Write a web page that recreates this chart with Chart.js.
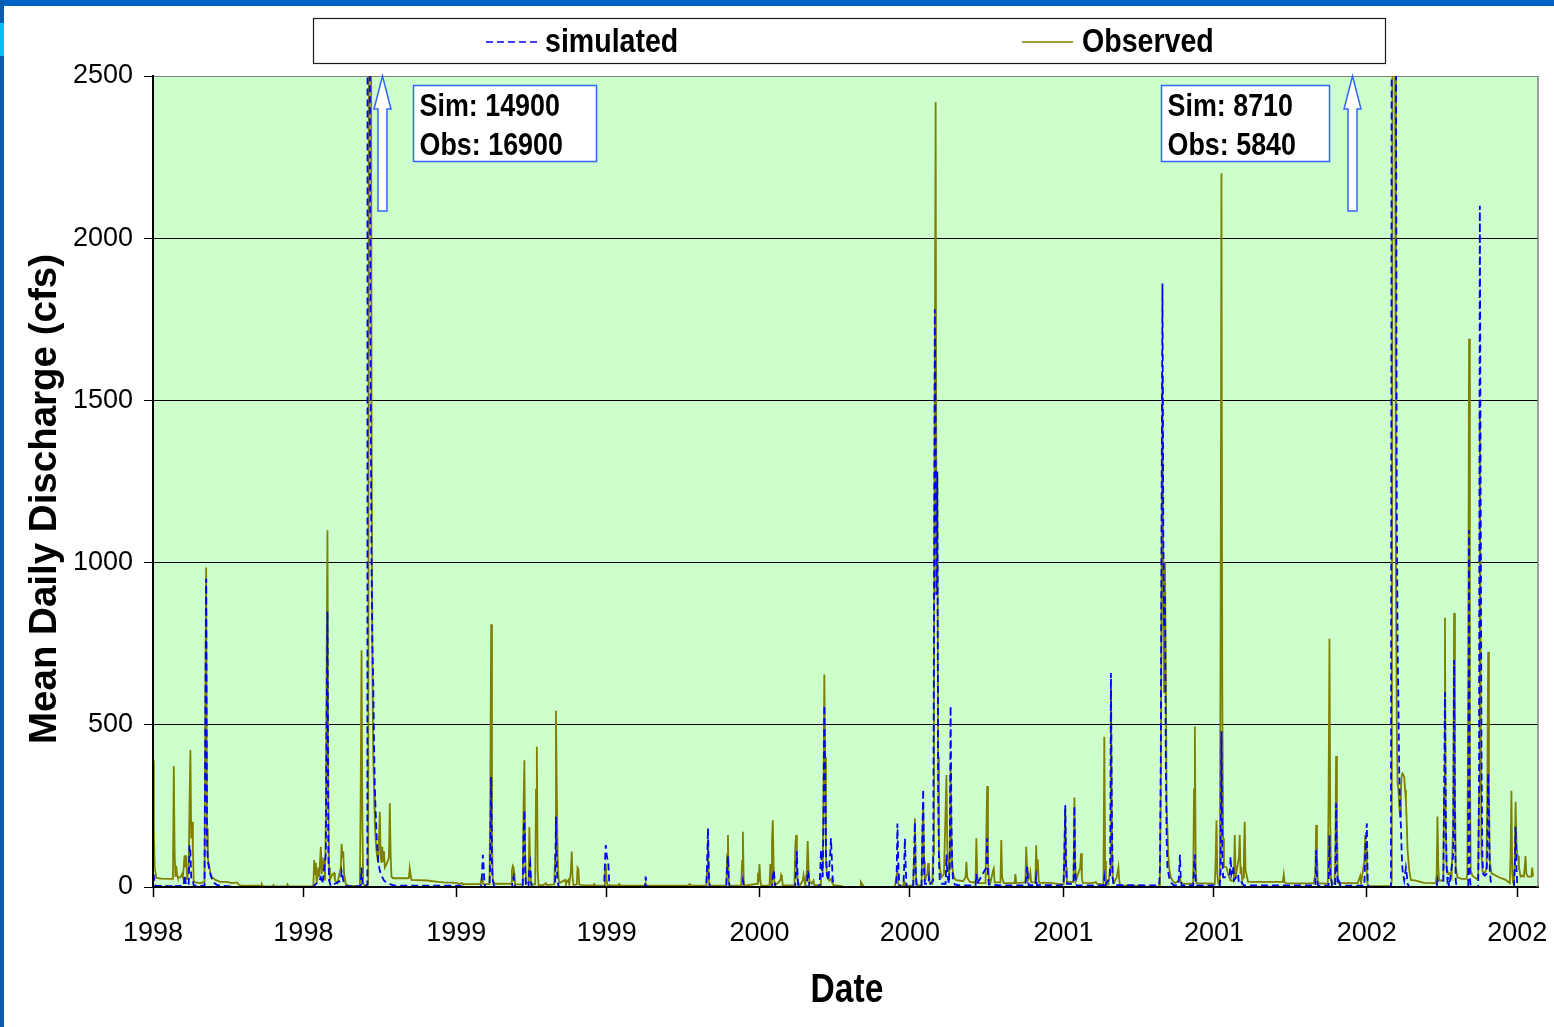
<!DOCTYPE html>
<html>
<head>
<meta charset="utf-8">
<title>Mean Daily Discharge</title>
<script src="https://cdn.jsdelivr.net/npm/chart.js@4.4.1/dist/chart.umd.min.js"></script>
<style>
  html, body { margin: 0; padding: 0; background: #ffffff; overflow: hidden; }
  #wrap { position: relative; width: 1554px; height: 1027px; }
  #chart { position: absolute; left: 0; top: 0; }
  #topbar { position: absolute; left: 0; top: 0; width: 1554px; height: 6px; background: #0062C2; }
  #sidebar { position: absolute; left: 0; top: 0; width: 4px; height: 1027px; background: #0B5AAE; }
  #sidemark { position: absolute; left: 0; top: 23px; width: 4px; height: 33px; background: #00C2F5; }
</style>
</head>
<body>
<div id="wrap">
  <canvas id="chart" width="1554" height="1027"></canvas>
  <div id="topbar"></div>
  <div id="sidebar"></div>
  <div id="sidemark"></div>
</div>
<script>
// Axis ticks: day offsets from 1 Jan 1998 and their year labels
const tickDays = [0, 181, 365, 546, 730, 911, 1096, 1277, 1461, 1642];
const tickLabels = ['1998', '1998', '1999', '1999', '2000', '2000', '2001', '2001', '2002', '2002'];
const seriesNames = ['simulated', 'Observed'];

// Mean daily discharge (cfs), as [day offset, flow]
const simulated = [
  [0,40],[1,35],[2,10],[3,4],[20,3],[24,3],[25,8],[26,3],[37,4],[38,37],[39,20],[40,4],[43,10],[44,129],[45,110],[46,30],[47,20],[48,20],[49,4],
  [62,4],[63,500],[64,950],[65,150],[66,80],[67,63],[69,40],[72,15],[78,5],[90,3],[100,0],[193,0],[196,10],[200,20],[202,30],[204,10],
  [208,100],[209,500],[210,850],[211,100],[212,20],[214,3],[226,20],[227,50],[228,40],[229,20],[231,3],[250,3],[251,60],[252,10],[254,2],[257,5],[258,5],
  [259,14900],[260,5000],[261,2500],[262,1500],[263,1000],[264,760],[265,640],[266,450],[267,300],[269,166],[270,120],[271,80],[273,50],[275,35],
  [278,20],[282,12],[286,8],[290,4],[370,4],[372,0],
  [395,0],[396,40],[397,99],[398,60],[399,10],[400,0],[405,0],[406,100],[407,340],[408,60],[409,20],[410,8],[411,0],[432,0],[433,20],[434,32],[435,10],[436,0],
  [445,0],[446,150],[447,237],[448,40],[449,0],[452,0],[453,60],[454,74],[455,20],[456,0],[484,0],[485,217],[486,60],[487,15],[488,5],[489,0],
  [543,0],[544,80],[545,129],[546,100],[547,85],[548,73],[549,20],[550,0],[592,0],[593,32],[594,0],
  [666,0],[667,80],[668,181],[669,40],[670,0],[690,0],[691,60],[692,95],[693,20],[694,0],[709,0],[710,20],[711,0],[745,0],[746,30],[747,52],[748,30],[749,0],
  [773,0],[774,60],[775,110],[776,20],[777,0],[787,0],[788,50],[789,40],[790,0],[802,0],[803,40],[804,114],[805,60],[806,30],[807,200],[808,560],[809,371],
  [810,100],[811,40],[813,20],[815,100],[816,150],[817,90],[818,30],[819,5],[820,0],
  [894,0],[895,30],[896,196],[897,80],[898,20],[899,0],[903,0],[904,50],[905,150],[906,60],[907,0],[915,0],[916,100],[917,200],[918,40],[919,5],[925,4],
  [926,150],[927,301],[928,60],[929,10],[933,10],[934,30],[935,8],[939,20],[940,800],[941,1780],[942,1400],[943,900],[944,1280],[945,300],[946,80],[947,20],
  [949,10],[954,10],[955,100],[956,40],[958,10],[959,80],[960,558],[961,200],[962,60],[963,20],[965,8],[970,5],[990,5],[991,40],[992,10],[1003,60],[1004,150],
  [1005,40],[1006,8],[1020,5],[1050,5],[1051,30],[1052,63],[1053,30],[1054,6],[1062,5],[1063,30],[1064,6],[1096,5],[1097,100],[1098,253],[1099,60],[1100,10],
  [1108,10],[1109,250],[1110,40],[1111,12],[1112,5],[1144,5],[1145,30],[1146,5],[1152,30],[1153,660],[1154,250],[1155,30],[1156,6],[1211,5],
  [1212,60],[1213,400],[1214,1200],[1215,1860],[1216,1100],[1217,800],[1218,900],[1219,400],[1220,150],[1221,60],[1223,30],[1225,15],[1228,6],[1234,5],
  [1235,40],[1236,99],[1237,30],[1238,5],[1252,5],[1253,60],[1254,100],[1255,10],[1256,5],[1284,5],[1285,50],[1286,480],[1287,100],[1288,30],[1292,30],[1296,40],
  [1297,93],[1298,40],[1300,63],[1301,20],[1306,40],[1307,10],[1310,15],[1313,5],[1399,5],[1400,114],[1401,30],[1402,4],[1415,4],[1416,160],[1417,30],
  [1418,28],[1419,4],[1423,4],[1424,258],[1425,60],[1426,10],[1427,20],[1428,15],[1429,4],[1440,4],[1458,4],[1459,100],[1460,150],[1461,196],[1462,20],[1463,0],[1490,0],
  [1491,3000],[1492,6000],[1493,8710],[1494,6000],[1495,4000],[1496,2700],[1497,1200],[1498,750],[1499,560],[1500,350],[1501,250],[1502,186],[1503,100],
  [1504,50],[1506,20],[1508,60],[1509,40],[1510,10],[1512,0],[1545,0],[1546,20],[1547,0],[1553,0],[1554,300],[1555,600],[1556,200],[1557,60],[1558,20],
  [1559,30],[1560,0],[1565,100],[1566,700],[1567,200],[1568,20],[1569,0],[1583,0],[1584,1100],[1585,30],[1586,0],[1595,0],[1596,300],[1597,2100],[1598,1200],
  [1599,400],[1600,100],[1601,40],[1603,35],[1605,40],[1606,100],[1607,350],[1608,200],[1609,50],[1610,20],[1612,0],[1638,0],[1639,60],[1640,186],[1641,60],
  [1642,10],[1644,0],[1661,0]
];

const observed = [
  [0,390],[1,180],[2,60],[4,28],[10,26],[23,25],[24,30],[25,373],[26,110],[27,32],[28,65],[29,35],[30,28],[33,30],[35,40],[36,30],[38,98],[39,60],[40,98],
  [41,22],[43,60],[44,268],[45,422],[46,150],[47,201],[48,120],[49,18],[51,14],[57,12],[62,16],[63,600],[64,985],[65,180],[66,90],[67,74],[69,45],[71,30],
  [75,22],[81,16],[89,16],[95,12],[101,14],[103,8],[105,5],[120,4],[130,4],[131,8],[132,3],[144,2],[145,6],[146,2],[161,3],[162,8],[163,2],[192,3],
  [193,4],[194,83],[195,40],[196,75],[197,10],[199,60],[200,30],[202,124],[203,40],[204,70],[205,50],[206,90],[207,20],[208,200],[209,700],[210,1100],
  [211,300],[212,60],[213,22],[216,40],[218,43],[219,20],[222,12],[226,60],[227,133],[228,90],[229,110],[230,40],[232,10],[235,4],[249,3],[250,300],
  [251,730],[252,200],[253,10],[255,4],[258,5],[259,10],[260,3000],[261,16900],[262,4000],[263,1500],[264,700],[265,420],[266,300],[267,200],[268,145],
  [269,110],[271,74],[273,232],[274,100],[275,74],[276,124],[277,80],[278,110],[279,60],[281,70],[284,90],[285,258],[286,100],[287,32],[289,27],[305,27],
  [308,28],[309,58],[310,40],[311,22],[330,20],[343,16],[350,14],[366,13],[368,9],[372,12],[373,9],[394,9],[396,28],[397,12],[398,9],[405,9],[406,300],
  [407,810],[408,150],[409,20],[411,10],[431,10],[432,50],[433,65],[434,60],[435,40],[436,8],[445,8],[446,250],[447,391],[448,100],[449,10],[452,15],
  [453,185],[454,60],[455,8],[460,8],[461,300],[462,432],[463,50],[464,6],[470,6],[473,12],[474,6],[483,8],[484,100],[485,543],[486,300],[487,100],
  [488,30],[489,12],[496,22],[497,10],[500,22],[501,8],[503,50],[504,109],[505,30],[506,6],[510,8],[511,60],[512,55],[513,8],[516,5],[530,5],[531,9],
  [532,4],[543,5],[544,50],[545,70],[546,20],[547,5],[560,5],[561,9],[562,4],[592,4],[593,12],[594,4],[644,4],[646,9],[648,4],
  [666,4],[667,60],[668,145],[669,20],[670,4],[690,4],[691,100],[692,160],[693,20],[694,4],[708,4],[709,80],[710,170],[711,20],[712,4],[727,10],[728,32],
  [729,25],[730,71],[731,20],[732,4],[742,4],[743,71],[744,10],[745,140],[746,206],[747,60],[748,10],[749,6],[755,20],[756,37],[757,30],[758,6],[772,4],
  [773,120],[774,160],[775,70],[776,20],[777,10],[779,6],[782,20],[783,37],[784,20],[785,6],[787,50],[788,142],[789,60],[790,15],[791,16],[793,10],[795,20],
  [796,6],[803,6],[804,30],[806,40],[807,300],[808,655],[809,400],[810,100],[811,40],[812,30],[814,20],[816,25],[817,16],[819,6],[825,4],[829,3],[830,0],
  [851,0],[852,16],[854,8],[856,0],[893,0],
  [894,20],[896,52],[897,10],[898,4],[903,4],[904,16],[905,4],[915,4],[916,100],[917,212],[918,60],[919,10],[920,6],[925,4],[926,150],[927,260],[928,80],
  [929,20],[932,40],[933,74],[934,30],[935,10],[938,10],[939,100],[940,600],[941,1600],[942,2420],[943,900],[944,1280],[945,400],[946,114],[947,60],[949,30],
  [952,40],[955,345],[956,120],[958,40],[959,60],[960,376],[961,150],[962,60],[964,30],[966,22],[970,20],[975,18],[978,30],[979,78],[980,30],[983,16],
  [990,14],[991,150],[992,40],[993,12],[1002,12],[1003,160],[1004,311],[1005,80],[1006,30],[1008,14],[1011,50],[1012,57],[1013,14],[1020,14],[1021,145],
  [1022,30],[1024,12],[1037,12],[1038,40],[1039,12],[1050,14],[1051,124],[1052,60],[1053,20],[1055,30],[1056,45],[1057,14],[1062,14],[1063,129],[1064,40],
  [1065,85],[1066,20],[1067,13],[1080,13],[1092,9],[1096,9],[1097,120],[1098,240],[1099,60],[1100,16],[1108,16],[1109,276],[1110,80],[1111,20],[1116,60],
  [1117,104],[1118,30],[1119,13],[1130,12],[1135,15],[1136,10],[1143,8],[1144,10],[1145,463],[1146,80],[1147,6],[1150,8],[1152,60],[1153,610],[1154,200],
  [1155,30],[1157,14],[1160,30],[1162,61],[1163,20],[1164,4],[1180,4],[1190,2],[1200,0],[1210,0],
  [1211,6],[1212,40],[1213,300],[1214,1000],[1215,1580],[1216,900],[1217,600],[1218,1000],[1219,700],[1220,250],[1222,100],[1223,60],[1225,30],[1227,20],
  [1230,12],[1235,20],[1236,30],[1237,15],[1240,10],[1252,10],[1253,300],[1254,495],[1255,60],[1256,12],[1278,10],[1279,80],[1280,206],[1281,40],[1282,12],
  [1284,15],[1285,800],[1286,2200],[1287,600],[1288,150],[1289,63],[1292,60],[1294,40],[1297,20],[1301,20],[1302,160],[1303,30],[1305,60],[1307,90],
  [1308,160],[1309,40],[1310,62],[1311,20],[1312,30],[1313,100],[1314,201],[1315,50],[1316,40],[1318,16],[1321,16],[1359,16],[1360,20],[1361,39],[1362,15],
  [1364,11],[1397,11],[1399,40],[1400,191],[1401,100],[1402,20],[1403,12],[1414,10],[1415,300],[1416,765],[1417,200],[1418,20],[1419,12],[1422,10],
  [1423,80],[1424,404],[1425,200],[1426,30],[1427,12],[1450,12],[1453,34],[1454,12],[1458,80],[1459,160],[1460,120],[1461,40],[1462,5],[1464,3],[1490,3],
  [1491,20],[1492,3000],[1493,5840],[1494,4000],[1495,2600],[1496,1000],[1497,500],[1498,320],[1499,299],[1500,250],[1501,217],[1502,300],[1503,345],
  [1504,350],[1506,340],[1507,300],[1508,268],[1509,197],[1510,114],[1512,52],[1514,22],[1520,20],[1530,13],[1544,12],[1545,40],[1546,217],[1547,60],
  [1548,20],[1553,20],[1554,300],[1555,830],[1556,200],[1557,60],[1559,40],[1561,43],[1563,30],[1565,200],[1566,845],[1567,300],[1568,60],[1570,30],
  [1575,25],[1581,25],[1582,40],[1583,600],[1584,1690],[1585,400],[1586,50],[1588,35],[1593,25],[1595,30],[1596,300],[1597,1470],[1598,500],[1599,100],
  [1600,50],[1603,40],[1605,60],[1606,300],[1607,725],[1608,300],[1609,80],[1611,42],[1620,30],[1628,22],[1633,12],[1634,100],[1635,297],[1636,40],
  [1637,13],[1638,11],[1639,80],[1640,263],[1641,150],[1642,93],[1643,95],[1644,60],[1646,32],[1648,35],[1650,32],[1651,60],[1652,95],[1653,40],
  [1655,32],[1659,32],[1660,60],[1661,32]
];

// Floods that run past the top of the axis: peak window and where the arrow sits
const offScaleFloods = [
  { from: 250, to: 270, arrowDay: 276, side: 'right' },
  { from: 1485, to: 1500, arrowDay: 1443, side: 'left' }
];

const SANS = '"Liberation Sans", Arial, sans-serif';
const CONDENSE = 0.84;          // horizontal squeeze for the narrow bold captions
const BOX_BLUE = '#3366FF';

function peakIn(series, from, to) {
  let m = 0;
  for (const [d, v] of series) if (d >= from && d <= to && v > m) m = v;
  return m;
}

// bold caption drawn with a horizontal squeeze (narrow face)
function narrowText(ctx, text, x, y, size, align) {
  ctx.save();
  ctx.translate(x, y);
  ctx.scale(CONDENSE, 1);
  ctx.font = 'bold ' + size + 'px ' + SANS;
  ctx.textAlign = align || 'left';
  ctx.textBaseline = 'middle';
  ctx.fillStyle = '#000000';
  ctx.fillText(text, 0, 0);
  ctx.restore();
}

function narrowWidth(ctx, text, size) {
  ctx.save();
  ctx.font = 'bold ' + size + 'px ' + SANS;
  const w = ctx.measureText(text).width * CONDENSE;
  ctx.restore();
  return w;
}

function drawUpArrow(ctx, cx, tipY) {
  ctx.beginPath();
  ctx.moveTo(cx, tipY);
  ctx.lineTo(cx + 8.5, tipY + 33);
  ctx.lineTo(cx + 4.5, tipY + 33);
  ctx.lineTo(cx + 4.5, tipY + 135);
  ctx.lineTo(cx - 4.5, tipY + 135);
  ctx.lineTo(cx - 4.5, tipY + 33);
  ctx.lineTo(cx - 8.5, tipY + 33);
  ctx.closePath();
  ctx.fillStyle = '#ffffff';
  ctx.fill();
  ctx.lineWidth = 1.5;
  ctx.strokeStyle = BOX_BLUE;
  ctx.stroke();
}

const chartDecor = {
  id: 'chartDecor',
  beforeDraw(chart) {
    const { ctx, chartArea: a } = chart;
    ctx.save();
    ctx.fillStyle = '#CCFFCC';
    ctx.fillRect(a.left, a.top, a.right - a.left, a.bottom - a.top);
    ctx.restore();
  },
  afterDraw(chart) {
    const { ctx, chartArea: a, scales } = chart;
    const ds = chart.data.datasets;
    ctx.save();

    // grey frame on the right side of the plot
    ctx.strokeStyle = '#808080';
    ctx.lineWidth = 1.5;
    ctx.beginPath();
    ctx.moveTo(a.right, a.top);
    ctx.lineTo(a.right, a.bottom);
    ctx.stroke();

    // legend
    ctx.fillStyle = '#ffffff';
    ctx.fillRect(313.5, 18.5, 1072, 45);
    ctx.strokeStyle = '#1a1a1a';
    ctx.lineWidth = 1.2;
    ctx.strokeRect(313.5, 18.5, 1072, 45);
    const legendItems = [
      { x0: 486, x1: 540, tx: 545 },
      { x0: 1022, x1: 1073, tx: 1082 }
    ];
    legendItems.forEach((it, i) => {
      ctx.save();
      ctx.strokeStyle = ds[i].borderColor;
      ctx.lineWidth = 1.4;
      ctx.setLineDash(ds[i].borderDash || []);
      ctx.beginPath();
      ctx.moveTo(it.x0, 42);
      ctx.lineTo(it.x1, 42);
      ctx.stroke();
      ctx.restore();
      narrowText(ctx, ds[i].label, it.tx, 43, 34, 'left');
    });

    // notes for the floods beyond the axis
    offScaleFloods.forEach(f => {
      const lines = [
        'Sim: ' + peakIn(simulated, f.from, f.to),
        'Obs: ' + peakIn(observed, f.from, f.to)
      ];
      const ax = Math.round(scales.x.getPixelForValue(f.arrowDay)) + 0.5;
      drawUpArrow(ctx, ax, a.top);
      const tw = Math.max(...lines.map(t => narrowWidth(ctx, t, 32)));
      const bw = Math.round(tw + 40);
      const bx = f.side === 'right' ? ax + 31 : ax - 23 - bw;
      ctx.fillStyle = '#ffffff';
      ctx.fillRect(bx, 85.5, bw, 76);
      ctx.strokeStyle = BOX_BLUE;
      ctx.lineWidth = 1.5;
      ctx.strokeRect(bx, 85.5, bw, 76);
      narrowText(ctx, lines[0], bx + 6, 107, 32, 'left');
      narrowText(ctx, lines[1], bx + 6, 146, 32, 'left');
    });

    // axis titles
    narrowText(ctx, 'Date', 847, 991, 40, 'center');
    ctx.translate(45, 499);
    ctx.rotate(-Math.PI / 2);
    ctx.fillStyle = '#000000';
    ctx.textAlign = 'center';
    ctx.textBaseline = 'middle';
    ctx.font = 'bold 38.5px ' + SANS;
    ctx.fillText('Mean Daily Discharge (cfs)', 0, 0);
    ctx.restore();
  }
};

const toPoints = s => s.map(([x, y]) => ({ x, y }));

new Chart(document.getElementById('chart'), {
  type: 'line',
  data: {
    datasets: [
      {
        label: seriesNames[0],
        data: toPoints(simulated),
        borderColor: '#0000FF',
        borderWidth: 1.8,
        borderDash: [7, 4],
        pointRadius: 0,
        tension: 0,
        fill: false
      },
      {
        label: seriesNames[1],
        data: toPoints(observed),
        borderColor: '#808000',
        borderWidth: 1.8,
        pointRadius: 0,
        tension: 0,
        fill: false
      }
    ]
  },
  options: {
    responsive: false,
    animation: false,
    devicePixelRatio: 1,
    layout: { padding: { left: 0, top: 76, right: 16, bottom: 0 } },
    plugins: { legend: { display: false }, tooltip: { enabled: false } },
    scales: {
      x: {
        type: 'linear',
        min: 0,
        max: 1667,
        afterBuildTicks: s => { s.ticks = tickDays.map(v => ({ value: v })); },
        afterFit: s => { s.height = 140; s.paddingLeft = 0; s.paddingRight = 0; },
        ticks: {
          autoSkip: false,
          maxRotation: 0,
          padding: 20,
          color: '#000000',
          font: { family: SANS, size: 27 },
          callback: (v, i) => tickLabels[i]
        },
        grid: { drawOnChartArea: false, drawTicks: true, tickLength: 10, tickColor: '#000000', tickWidth: 1.5 },
        border: { display: true, color: '#000000', width: 2, z: 1 }
      },
      y: {
        min: 0,
        max: 2500,
        afterFit: s => { s.width = 153; s.paddingTop = 0; s.paddingBottom = 0; },
        ticks: {
          stepSize: 500,
          padding: 11,
          color: '#000000',
          font: { family: SANS, size: 27 },
          callback: v => String(v)
        },
        grid: {
          color: c => (c.tick && c.tick.value === 2500 ? '#808080' : '#000000'),
          lineWidth: 1,
          drawTicks: true,
          tickLength: 9,
          tickColor: '#000000'
        },
        border: { display: true, color: '#000000', width: 2, z: 1 }
      }
    }
  },
  plugins: [chartDecor]
});
</script>
</body>
</html>
